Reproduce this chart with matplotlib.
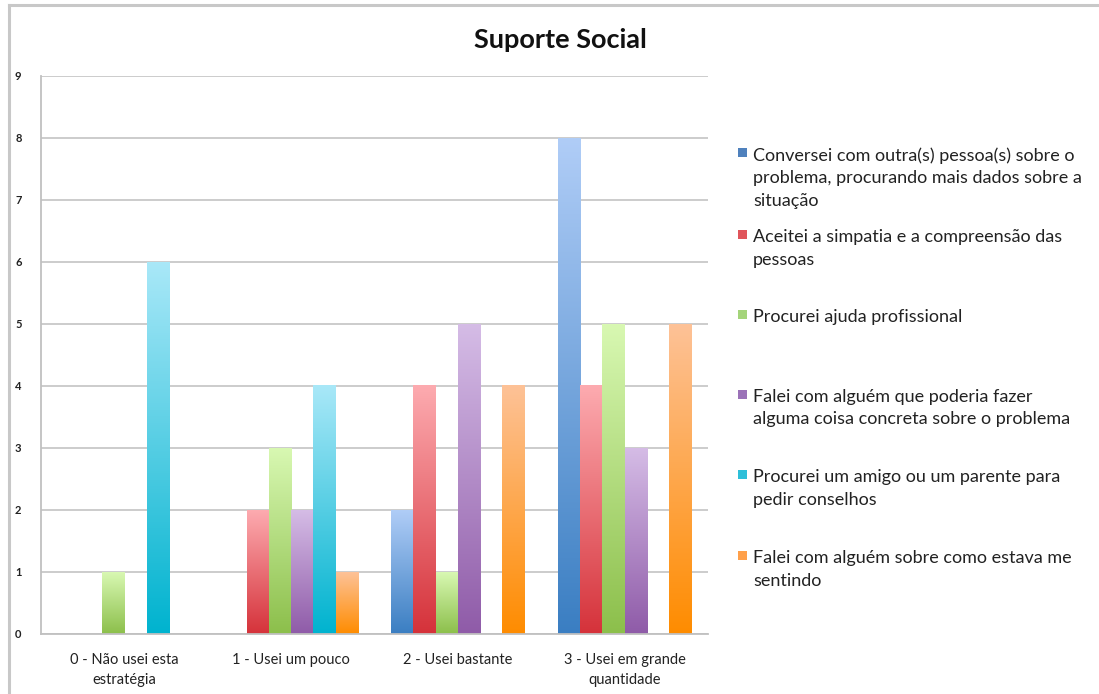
import numpy as np
import matplotlib
matplotlib.use("Agg")
import matplotlib.pyplot as plt
from matplotlib.colors import LinearSegmentedColormap
from matplotlib.patches import Rectangle
from matplotlib.lines import Line2D

plt.rcParams['font.family'] = ['Lato', 'DejaVu Sans']

categories = ["0 - Não usei esta\nestratégia", "1 - Usei um pouco",
              "2 - Usei bastante", "3 - Usei em grande\nquantidade"]
series_labels = [
    "Conversei com outra(s) pessoa(s) sobre o\nproblema, procurando mais dados sobre a\nsituação",
    "Aceitei a simpatia e a compreensão das\npessoas",
    "Procurei ajuda profissional",
    "Falei com alguém que poderia fazer\nalguma coisa concreta sobre o problema",
    "Procurei um amigo ou um parente para\npedir conselhos",
    "Falei com alguém sobre como estava me\nsentindo",
]
conversei = [0, 0, 2, 8]
aceitei = [0, 2, 4, 4]
ajuda_prof = [1, 3, 1, 5]
falei_concreta = [0, 2, 5, 3]
amigo_parente = [6, 4, 0, 0]
falei_sentindo = [0, 1, 4, 5]
series = [conversei, aceitei, ajuda_prof, falei_concreta, amigo_parente, falei_sentindo]

top_colors = ["#b0cdf7", "#fdabb0", "#d8f8b2", "#d5bce6", "#a9e8f8", "#fdc297"]
bottom_colors = ["#3a7ec2", "#d5323a", "#8cbf4b", "#8f5ba8", "#00b3cf", "#ff8c00"]
legend_colors = ["#4f81bd", "#e0555b", "#a4d47a", "#9b72b8", "#2ebfd9", "#ffa04a"]

W, H = 1099, 694
fig = plt.figure(figsize=(W / 100, H / 100), dpi=100)
ax = fig.add_axes([41 / W, 1 - 634 / H, (708 - 41) / W, (634 - 76) / H])

x = np.arange(len(categories))
w = 0.8 / len(series)
grad = np.linspace(0, 1, 256).reshape(-1, 1)
for i, vals in enumerate(series):
    bars = ax.bar(x + (i - 2.5) * w, vals, w, color="none", edgecolor="none", zorder=2)
    cmap = LinearSegmentedColormap.from_list(f"g{i}", [bottom_colors[i], top_colors[i]])
    for b in bars:
        if b.get_height() == 0:
            continue
        bx, by = b.get_x(), b.get_y()
        ax.imshow(grad, cmap=cmap, aspect="auto", origin="lower", zorder=2,
                  extent=[bx, bx + b.get_width(), by, by + b.get_height()])

ax.set_xlim(-0.5, 3.5)
ax.set_ylim(0, 9)
ax.set_yticks(range(10))
ax.set_xticks(x)
ax.set_xticklabels(categories, fontsize=10.5, color="#222222", linespacing=1.5)
for lbl in ax.get_yticklabels():
    lbl.set_fontweight("bold")
ax.tick_params(axis="y", length=0, pad=14, labelsize=8, labelcolor="#222222")
ax.tick_params(axis="x", length=0, pad=14)
ax.yaxis.grid(True, color="#c8c8c8", lw=1.3)
ax.set_axisbelow(True)
for s in ["top", "right"]:
    ax.spines[s].set_visible(False)
for s in ["left", "bottom"]:
    ax.spines[s].set_color("#c0c0c0")
    ax.spines[s].set_linewidth(1.3)

# outer chart frame (only top and left edges are visible)
fig.add_artist(Line2D([9 / W, 9 / W], [0, 1 - 5 / H], color="#c8c8c8", lw=2.2))
fig.add_artist(Line2D([9 / W, 1], [1 - 5 / H, 1 - 5 / H], color="#c8c8c8", lw=2.2))

fig.text(560 / W, 1 - 40 / H, "Suporte Social", ha="center", va="center",
         fontsize=19.5, fontweight="bold", color="#111111")

# legend
entry_y = [155, 237, 317, 397, 477, 558]
for lab, col, yy in zip(series_labels, legend_colors, entry_y):
    fig.text(753 / W, 1 - (yy - 8) / H, lab, ha="left", va="top",
             fontsize=13, color="#222222", linespacing=1.5)
    fig.add_artist(Rectangle((738 / W, 1 - (yy + 2) / H), 9 / W, 9 / H,
                             transform=fig.transFigure, color=col, lw=0))

fig.savefig("out.png", dpi=100)
